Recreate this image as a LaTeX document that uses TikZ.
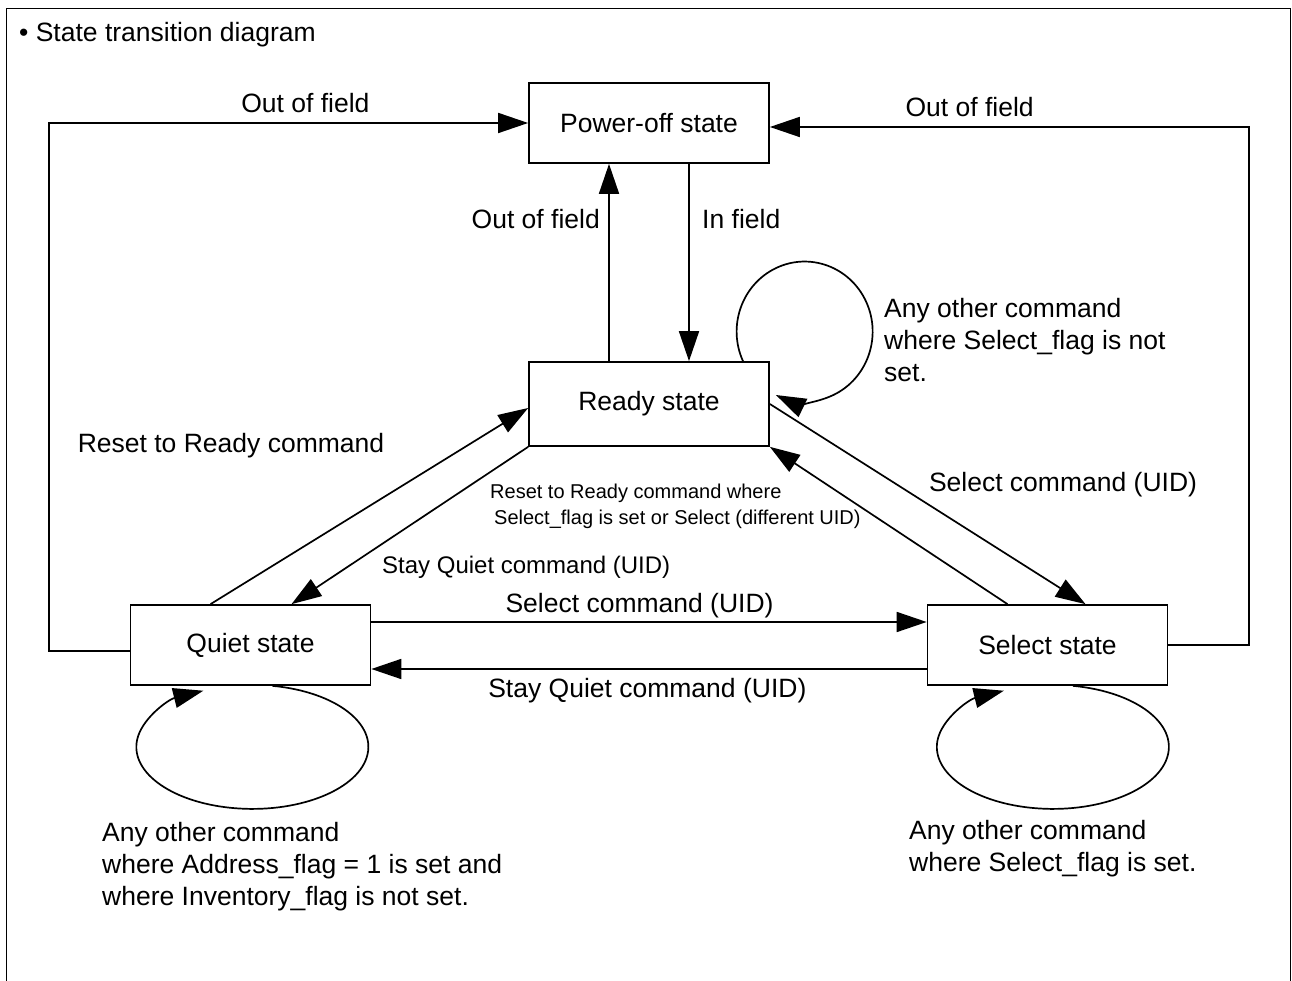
\documentclass[tikz,border=0pt]{standalone}
\usepackage{fontspec}
\setmainfont{Liberation Sans}
\usetikzlibrary{arrows.meta}
\begin{document}
\begin{tikzpicture}[x=1pt,y=1pt,>={Triangle[length=30pt,width=20pt]},line width=1.7pt,
  state/.style={draw,minimum width=240pt,minimum height=80pt,font=\fontsize{26.5}{32}\selectfont},
  lbl/.style={font=\fontsize{26.5}{32}\selectfont,align=left},
  small/.style={font=\fontsize{20}{26}\selectfont,align=left}]
\useasboundingbox (0,0) rectangle (1292,980);
\draw[line width=1pt] (6,-5) -- (6,971) -- (1290,971) -- (1290,-5);
\node[lbl,anchor=west] (title) at (15,945) {• State transition diagram};

\node[state] (poweroff) at (649,857) {Power-off state};
\node[state,minimum height=84pt] (ready) at (649,576) {Ready state};
\node[state] (quiet) at (250.5,335) {Quiet state};
\node[state] (select) at (1047.5,335) {Select state};

\coordinate (lft) at (49,857);
\coordinate (rgt) at (1249,853);

% out of field / in field
\draw[->] ([yshift=-6pt]quiet.west) -| (lft) -- node[lbl,above=6pt,pos=.535]{Out of field} (poweroff.west);
\draw[->] (select.east) -| (rgt) -- node[lbl,above=6pt,pos=.583]{Out of field} ([yshift=-4pt]poweroff.east);
\draw[->] ([xshift=-40pt]ready.north) -- node[lbl,left=5pt,pos=.72]{Out of field} ([xshift=-40pt]poweroff.south);
\draw[->] ([xshift=40pt]poweroff.south) -- node[lbl,right=9pt,pos=.28]{In field} ([xshift=40pt]ready.north);

\draw[->] ([xshift=94pt]ready.north) arc[start angle=205,end angle=-115,x radius=68pt,y radius=70pt];
\node[lbl,anchor=west] (rdyloop) at (880,640) {Any other command\\where Select\_flag is not\\set.};

% ready <-> quiet, ready <-> select
\draw[->] ([xshift=-40pt]quiet.north) -- ([yshift=-4pt]ready.west);
\node[lbl] (rstlbl) at (231,534) {Reset to Ready command};
\draw[->] (ready.south west) -- ([xshift=41pt]quiet.north);
\node[lbl,anchor=west,font=\fontsize{24}{29}\selectfont] (stqlbl) at (378,413) {Stay Quiet command (UID)};
\draw[->] (ready.east) -- ([xshift=38pt]select.north);
\node[lbl] (sellbl) at (1063,495) {Select command (UID)};
\draw[->] ([xshift=-40pt]select.north) -- (ready.south east);
\node[small,anchor=west] (rstsel) at (486,474) {Reset to Ready command where\\\hspace*{4pt}Select\_flag is set or Select (different UID)};

% quiet <-> select
\draw[->] ([yshift=23pt]quiet.east) -- node[lbl,above,pos=.483]{Select command (UID)} ([yshift=23pt]select.west);
\draw[->] ([yshift=-24pt]select.west) -- node[lbl,below=5pt,pos=.503]{Stay Quiet command (UID)} ([yshift=-24pt]quiet.east);

\draw[->] ([xshift=22pt]quiet.south) arc[start angle=80,end angle=-245,x radius=116pt,y radius=62pt];
\draw[->] ([xshift=25.5pt]select.south) arc[start angle=80,end angle=-245,x radius=116pt,y radius=62pt];
\node[lbl,anchor=west] (qlbl) at (98,113) {Any other command\\where Address\_flag = 1 is set and\\where Inventory\_flag is not set.};
\node[lbl,anchor=west] (slbl) at (905,131) {Any other command\\where Select\_flag is set.};
\end{tikzpicture}
\end{document}
